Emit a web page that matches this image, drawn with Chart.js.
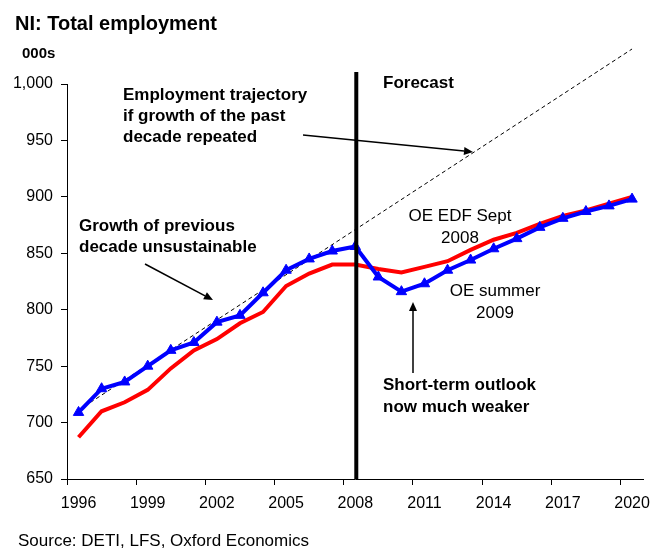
<!DOCTYPE html>
<html>
<head>
<meta charset="utf-8">
<title>NI: Total employment</title>
<script src="https://cdn.jsdelivr.net/npm/chart.js@4"></script>
<style>
  html, body { margin: 0; padding: 0; background: #fff; }
  #wrap { position: relative; width: 659px; height: 549px; }
</style>
</head>
<body>
<div id="wrap">
  <canvas id="employmentChart" width="659" height="549"></canvas>
</div>
<script>
// years on the category axis
const years = [
  "1996", "1997", "1998", "1999", "2000", "2001", "2002", "2003", "2004",
  "2005", "2006", "2007", "2008", "2009", "2010", "2011", "2012", "2013",
  "2014", "2015", "2016", "2017", "2018", "2019", "2020"
];

// OE summer 2009 (blue, triangles)
const oeSummer2009 = [
  709, 730, 736, 750, 764, 771, 789, 795, 815,
  835, 845, 852, 856, 829, 816, 823, 835, 844,
  854, 863, 873, 881, 887, 892, 898
];

// OE EDF Sept 2008 (red)
const oeEdfSept2008 = [
  687, 710, 718, 729, 748, 764, 774, 788, 798,
  821, 832, 840, 840, 836, 833, 838, 843, 853,
  862, 868, 876, 883, 888, 894, 900
];

// trajectory if past decade's growth repeated (straight dashed line)
const pastTrend = [
  711, null, null, null, null, null, null, null, null,
  null, null, null, null, null, null, null, null, null,
  null, null, null, null, null, null, 1031
];

const yTicks = [650, 700, 750, 800, 850, 900, 950, 1000];
const forecastYear = "2008";

const FONT = "'Liberation Sans', Arial, sans-serif";

function arrow(ctx, x1, y1, x2, y2) {
  const ang = Math.atan2(y2 - y1, x2 - x1);
  const len = 9, half = 4;
  ctx.beginPath();
  ctx.moveTo(x1, y1);
  ctx.lineTo(x2 - Math.cos(ang) * len, y2 - Math.sin(ang) * len);
  ctx.stroke();
  ctx.beginPath();
  ctx.moveTo(x2, y2);
  ctx.lineTo(x2 - Math.cos(ang) * len - Math.sin(ang) * half, y2 - Math.sin(ang) * len + Math.cos(ang) * half);
  ctx.lineTo(x2 - Math.cos(ang) * len + Math.sin(ang) * half, y2 - Math.sin(ang) * len - Math.cos(ang) * half);
  ctx.closePath();
  ctx.fill();
}

// titles, notes, forecast divider and arrows
const notesPlugin = {
  id: "notes",
  afterDatasetsDraw(chart) {
    const ctx = chart.ctx;
    const x = chart.scales.x;
    const area = chart.chartArea;
    ctx.save();

    // forecast divider
    const fx = x.getPixelForValue(years.indexOf(forecastYear)) + 1;
    ctx.strokeStyle = "#000";
    ctx.lineWidth = 4;
    ctx.beginPath();
    ctx.moveTo(fx, 72);
    ctx.lineTo(fx, area.bottom);
    ctx.stroke();

    ctx.fillStyle = "#000";
    ctx.textBaseline = "alphabetic";

    ctx.font = "bold 20px " + FONT;
    ctx.textAlign = "left";
    ctx.fillText("NI: Total employment", 15, 30);

    ctx.font = "bold 15px " + FONT;
    ctx.fillText("000s", 22, 58);

    ctx.font = "bold 17px " + FONT;
    ctx.fillText("Employment trajectory", 123, 100);
    ctx.fillText("if growth of the past", 123, 121);
    ctx.fillText("decade repeated", 123, 142);
    ctx.fillText("Forecast", 383, 88);
    ctx.fillText("Growth of previous", 79, 231);
    ctx.fillText("decade unsustainable", 79, 252);
    ctx.fillText("Short-term outlook", 383, 390);
    ctx.fillText("now much weaker", 383, 412);

    ctx.font = "17px " + FONT;
    ctx.textAlign = "center";
    ctx.fillText("OE EDF Sept", 460, 221);
    ctx.fillText("2008", 460, 243);
    ctx.fillText("OE summer", 495, 296);
    ctx.fillText("2009", 495, 318);

    ctx.textAlign = "left";
    ctx.fillText("Source: DETI, LFS, Oxford Economics", 18, 546);

    ctx.lineWidth = 1.5;
    arrow(ctx, 303, 135, 473, 152);
    arrow(ctx, 145, 264, 213, 300);
    arrow(ctx, 413, 373, 413, 302);

    ctx.restore();
  }
};

const ctx = document.getElementById("employmentChart").getContext("2d");

new Chart(ctx, {
  type: "line",
  data: {
    labels: years,
    datasets: [
      {
        label: "OE summer 2009",
        data: oeSummer2009,
        borderColor: "#0000ff",
        backgroundColor: "#0000ff",
        borderWidth: 4,
        pointStyle: "triangle",
        pointRadius: 6,
        pointBorderWidth: 1,
        tension: 0
      },
      {
        label: "OE EDF Sept 2008",
        data: oeEdfSept2008,
        borderColor: "#ff0000",
        backgroundColor: "#ff0000",
        borderWidth: 4,
        pointRadius: 0,
        tension: 0
      },
      {
        label: "Past decade growth repeated",
        data: pastTrend,
        borderColor: "#000",
        borderWidth: 1,
        borderDash: [4, 3],
        pointRadius: 0,
        spanGaps: true,
        clip: false,
        tension: 0
      }
    ]
  },
  options: {
    responsive: false,
    animation: false,
    layout: { padding: { left: 0, top: 84, right: 8, bottom: 40 } },
    plugins: {
      legend: { display: false },
      tooltip: { enabled: false }
    },
    scales: {
      x: {
        type: "category",
        offset: true,
        afterFit: (s) => { s.height = 30; },
        border: { color: "#000", width: 1 },
        grid: {
          offset: true,
          drawOnChartArea: false,
          tickLength: 6,
          color: (c) => (c.index % 3 === 0 ? "#000" : "rgba(0,0,0,0)")
        },
        ticks: {
          autoSkip: false,
          maxRotation: 0,
          padding: 9,
          color: "#000",
          font: { family: FONT, size: 16 },
          callback: (v, i) => (i % 3 === 0 ? years[i] : "")
        }
      },
      y: {
        min: yTicks[0],
        max: yTicks[yTicks.length - 1],
        afterFit: (s) => { s.width = 67; },
        afterBuildTicks: (s) => { s.ticks = yTicks.map((v) => ({ value: v })); },
        border: { color: "#000", width: 1 },
        grid: { drawOnChartArea: false, tickLength: 6, color: "#000" },
        ticks: {
          padding: 8,
          color: "#000",
          font: { family: FONT, size: 16 },
          callback: (v) => v.toLocaleString("en-US")
        }
      }
    }
  },
  plugins: [notesPlugin]
});
</script>
</body>
</html>
